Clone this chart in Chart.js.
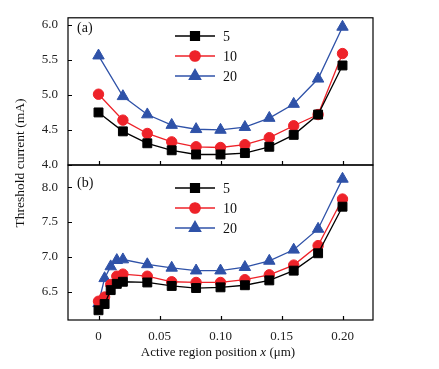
<!DOCTYPE html>
<html>
<head>
<meta charset="utf-8">
<script src="https://cdn.jsdelivr.net/npm/chart.js@4.4.1/dist/chart.umd.min.js"></script>
<style>
  html, body { margin: 0; padding: 0; background: #fff; }
  #wrap { position: relative; width: 439px; height: 369px; }
  canvas { position: absolute; left: 0; top: 0; }
</style>
</head>
<body>
<div id="wrap">
  <canvas id="chartA" width="439" height="369"></canvas>
  <canvas id="chartB" width="439" height="369"></canvas>
</div>
<script>
// ---- data ----
const seriesNames = ["5", "10", "20"]
const xTicks = [0, 0.05, 0.10, 0.15, 0.20]
const yTicksTop = [4.0, 4.5, 5.0, 5.5, 6.0]
const yTicksBottom = [6.5, 7.0, 7.5, 8.0]

const xTop = [0, 0.02, 0.04, 0.06, 0.08, 0.10, 0.12, 0.14, 0.16, 0.18, 0.20]
const topBlack = [4.75, 4.48, 4.31, 4.21, 4.15, 4.15, 4.17, 4.26, 4.43, 4.72, 5.42]
const topRed   = [5.01, 4.64, 4.45, 4.33, 4.26, 4.25, 4.29, 4.39, 4.56, 4.72, 5.59]
const topBlue  = [5.56, 4.98, 4.72, 4.57, 4.51, 4.50, 4.54, 4.67, 4.87, 5.23, 5.97]

const xBottom = [0, 0.005, 0.01, 0.015, 0.02, 0.04, 0.06, 0.08, 0.10, 0.12, 0.14, 0.16, 0.18, 0.20]
const bottomBlack = [6.23, 6.32, 6.52, 6.61, 6.64, 6.63, 6.58, 6.55, 6.56, 6.59, 6.66, 6.80, 7.05, 7.72]
const bottomRed   = [6.36, 6.42, 6.60, 6.72, 6.75, 6.72, 6.64, 6.63, 6.63, 6.67, 6.74, 6.88, 7.16, 7.83]
const bottomBlue  = [6.33, 6.69, 6.86, 6.95, 6.96, 6.89, 6.84, 6.80, 6.80, 6.85, 6.94, 7.10, 7.40, 8.12]

const FONT = "'Liberation Serif', 'Times New Roman', serif"
const styles = [
  { color: "#000000", pointStyle: "rect", radius: 6.3 },
  { color: "#ee2229", pointStyle: "circle", radius: 5.2 },
  { color: "#2f52a8", pointStyle: "triangle", radius: 6.6 }
]

function makeDatasets(xs, lists) {
  return lists.map((ys, i) => ({
    label: seriesNames[i],
    data: xs.map((x, j) => ({ x: x, y: ys[j] })),
    borderColor: styles[i].color,
    backgroundColor: styles[i].color,
    pointBackgroundColor: styles[i].color,
    pointBorderColor: styles[i].color,
    pointStyle: styles[i].pointStyle,
    pointRadius: styles[i].radius,
    pointBorderWidth: 1,
    borderWidth: 1.3,
    tension: 0,
    clip: false
  }))
}

// frame + inward ticks
const frameTicks = {
  id: "frameTicks",
  afterDraw(chart) {
    const { ctx, chartArea: a, scales } = chart
    ctx.save()
    ctx.strokeStyle = "#000"
    ctx.lineWidth = 1.2
    ctx.strokeRect(a.left, a.top, a.right - a.left, a.bottom - a.top)
    ctx.beginPath()
    scales.x.ticks.forEach(t => {
      const px = Math.round(scales.x.getPixelForValue(t.value)) + 0.5
      ctx.moveTo(px, a.bottom)
      ctx.lineTo(px, a.bottom - 4)
    })
    scales.y.ticks.forEach(t => {
      const py = Math.round(scales.y.getPixelForValue(t.value)) + 0.5
      ctx.moveTo(a.left, py)
      ctx.lineTo(a.left + 4, py)
    })
    ctx.stroke()
    ctx.restore()
  }
}

// legend with line + marker, panel tag
const lineLegend = {
  id: "lineLegend",
  afterDraw(chart, args, opts) {
    const { ctx } = chart
    ctx.save()
    chart.data.datasets.forEach((ds, i) => {
      const y = opts.rows[i]
      ctx.strokeStyle = ds.borderColor
      ctx.lineWidth = 1.3
      ctx.beginPath()
      ctx.moveTo(opts.x0, y)
      ctx.lineTo(opts.x1, y)
      ctx.stroke()
      ctx.fillStyle = ds.pointBackgroundColor
      Chart.helpers.drawPoint(ctx, {
        pointStyle: ds.pointStyle, radius: ds.pointRadius, rotation: 0, borderWidth: 1
      }, (opts.x0 + opts.x1) / 2, y)
      ctx.fillStyle = "#111"
      ctx.font = "14px " + FONT
      ctx.textAlign = "left"
      ctx.textBaseline = "middle"
      ctx.fillText(ds.label, opts.textX, y + 1)
    })
    ctx.font = "14px " + FONT
    ctx.fillStyle = "#111"
    ctx.textAlign = "left"
    ctx.textBaseline = "middle"
    ctx.fillText(opts.tag, opts.tagX, opts.tagY)
    ctx.restore()
  }
}

// shared axis titles drawn on the lower chart
const axisTitles = {
  id: "axisTitles",
  afterDraw(chart) {
    const { ctx } = chart
    ctx.save()
    ctx.fillStyle = "#111"
    ctx.textBaseline = "middle"
    ctx.font = "13.5px " + FONT
    ctx.translate(20, 163)
    ctx.rotate(-Math.PI / 2)
    ctx.textAlign = "center"
    ctx.fillText("Threshold current (mA)", 0, 0)
    ctx.restore()

    ctx.save()
    ctx.fillStyle = "#111"
    ctx.textBaseline = "middle"
    const parts = [["Active region position ", ""], ["x", "italic "], [" (\u03bcm)", ""]]
    let total = 0
    parts.forEach(p => { ctx.font = p[1] + "13px " + FONT; total += ctx.measureText(p[0]).width })
    let x = 218 - total / 2
    ctx.textAlign = "left"
    parts.forEach(p => {
      ctx.font = p[1] + "13px " + FONT
      ctx.fillText(p[0], x, 353)
      x += ctx.measureText(p[0]).width
    })
    ctx.restore()
  }
}

function fmtX(v) { return v === 0 ? "0" : v.toFixed(2) }

function baseScales(yMin, yMax, yTicks, showX) {
  return {
    x: {
      type: "linear",
      min: -0.025, max: 0.225,
      afterBuildTicks: s => { s.ticks = xTicks.map(v => ({ value: v })) },
      afterFit: s => { s.height = showX ? 49 : 0 },
      grid: { display: false, drawTicks: false },
      border: { display: false },
      ticks: {
        display: showX, padding: 9, color: "#222",
        font: { family: FONT, size: 13 },
        maxRotation: 0, autoSkip: false,
        callback: v => fmtX(v)
      }
    },
    y: {
      min: yMin, max: yMax,
      afterBuildTicks: s => { s.ticks = yTicks.map(v => ({ value: v })) },
      afterFit: s => { s.width = 68 },
      grid: { display: false, drawTicks: false },
      border: { display: false },
      ticks: {
        padding: 10, color: "#222",
        font: { family: FONT, size: 13 },
        callback: v => v.toFixed(1)
      }
    }
  }
}

new Chart(document.getElementById("chartA"), {
  type: "line",
  data: { datasets: makeDatasets(xTop, [topBlack, topRed, topBlue]) },
  options: {
    responsive: false, animation: false,
    layout: { padding: { left: 0, top: 13, right: 66, bottom: 204 } },
    plugins: {
      legend: { display: false }, tooltip: { enabled: false },
      lineLegend: { x0: 175, x1: 215, textX: 223, rows: [36, 56, 76], tag: "(a)", tagX: 77, tagY: 28 }
    },
    scales: baseScales(4.0, 6.1, yTicksTop, false)
  },
  plugins: [frameTicks, lineLegend]
})

new Chart(document.getElementById("chartB"), {
  type: "line",
  data: { datasets: makeDatasets(xBottom, [bottomBlack, bottomRed, bottomBlue]) },
  options: {
    responsive: false, animation: false,
    layout: { padding: { left: 0, top: 165, right: 66, bottom: 0 } },
    plugins: {
      legend: { display: false }, tooltip: { enabled: false },
      lineLegend: { x0: 175, x1: 215, textX: 223, rows: [188, 208, 228], tag: "(b)", tagX: 77, tagY: 183 }
    },
    scales: baseScales(6.09, 8.32, yTicksBottom, true)
  },
  plugins: [frameTicks, lineLegend, axisTitles]
})
</script>
</body>
</html>
